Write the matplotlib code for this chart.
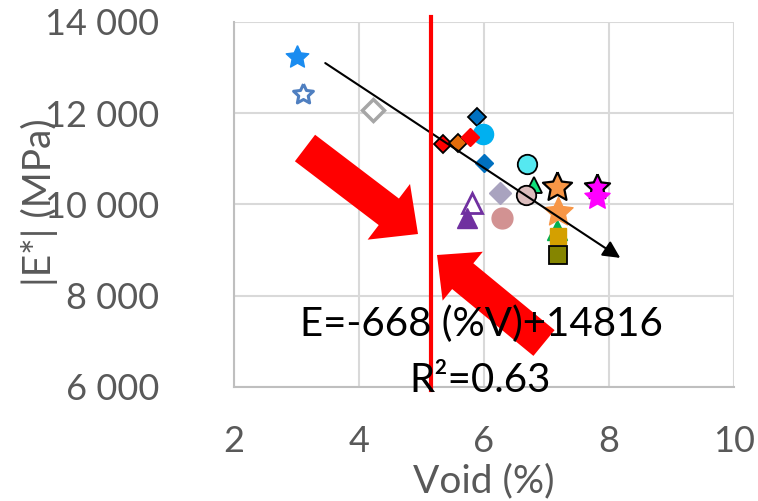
import matplotlib
matplotlib.use("Agg")
import matplotlib.pyplot as plt
import numpy as np

# ---------------- data ----------------
void = [3.00, 3.10, 4.22, 5.34, 5.59, 5.89, 5.99, 5.77, 6.00, 6.68, 6.80, 6.67,
        6.25, 6.28, 5.80, 5.72, 7.16, 7.17, 7.19, 7.18, 7.81, 7.81, 7.19]
modulus = [13230, 12420, 12070, 11330, 11340, 11920, 11540, 11490, 10920, 10880,
           10430, 10210, 10260, 9700, 10030, 9700, 10380, 9440, 9310, 9840,
           10380, 10160, 8890]

x_ticks = [2, 4, 6, 8, 10]
y_ticks = [6000, 8000, 10000, 12000, 14000]
y_tick_labels = ["6 000", "8 000", "10 000", "12 000", "14 000"]

equation_text = "E=-668 (%V)+14816"
r2_text = "R\u00b2=0.63"

# fatter five-pointed star (Excel style)
_ang = np.pi / 2 + np.arange(10) * np.pi / 5
_rad = np.where(np.arange(10) % 2 == 0, 1.0, 0.48)
STAR = list(zip(_rad * np.cos(_ang), _rad * np.sin(_ang))) + [(0.0, 1.0)]

# ---------------- styles (one per point) ----------------
markers = [STAR, STAR, "D", "D", "D", "D", "o", "D", "D", "o", "^", "o",
           "D", "o", "^", "^", STAR, "^", "s", STAR, STAR, STAR, "s"]
faces = ["#1A8CF0", "white", "white", "#FF0000", "#E36C0A", "#0070C0", "#00B0F0",
         "#FF0000", "#0070C0", "#55E8F0", "#10E07A", "#DCBDBD", "#A9A3BF",
         "#D29292", "white", "#7030A0", "#F79646", "#00B050", "#D4A000",
         "#F79646", "#FF00FF", "#FF00FF", "#858500"]
edges = ["#1A8CF0", "#4F7FC0", "#A6A6A6", "black", "black", "black", "#00B0F0",
         "#FF0000", "#0070C0", "black", "black", "black", "#A9A3BF",
         "#D29292", "#7030A0", "#7030A0", "black", "#00B050", "#D4A000",
         "#F79646", "black", "#FF00FF", "black"]
sizes = [17, 15, 11, 9.5, 9.5, 9.5, 14.5, 9.5, 9.5, 14, 11, 14,
         11, 15, 14, 14, 22, 14, 11.5, 22, 19, 19, 12.5]
ewidths = [1, 2.2, 2.5, 1.3, 1.3, 1.3, 1, 1, 1, 1.3, 1.3, 1.3,
           1, 1, 2, 1, 1.6, 1, 1, 1, 1.6, 1, 1.3]

plt.rcParams["font.family"] = ["Lato", "DejaVu Sans"]
grey = "#595959"

fig = plt.figure(figsize=(7.58, 5.01), dpi=100)
ax = fig.add_axes([234 / 758, 114 / 501, 500 / 758, 365 / 501])

ax.set_xlim(2, 10)
ax.set_ylim(6000, 14000)
ax.set_xticks(x_ticks)
ax.set_yticks(y_ticks)
ax.set_yticklabels(y_tick_labels)
ax.grid(True, color="#D9D9D9", linewidth=1.5, zorder=0)
ax.set_axisbelow(True)
for s in ["top", "right"]:
    ax.spines[s].set_visible(False)
for s in ["left", "bottom"]:
    ax.spines[s].set_color("#BFBFBF")
    ax.spines[s].set_linewidth(1.5)
ax.tick_params(axis="both", length=0, labelsize=26, labelcolor=grey)
ax.tick_params(axis="y", pad=54)
ax.tick_params(axis="x", pad=27)

for i in range(len(void)):
    ax.plot(void[i], modulus[i], linestyle="none", marker=markers[i],
            markersize=sizes[i], markerfacecolor=faces[i],
            markeredgecolor=edges[i], markeredgewidth=ewidths[i],
            zorder=3 + i * 0.01, clip_on=False)

# trend arrow (hand-drawn in the original)
ax.annotate("", xy=(8.18, 8830), xytext=(3.46, 13100),
            arrowprops=dict(arrowstyle="-|>", color="black", lw=1.5,
                            mutation_scale=26, shrinkA=0, shrinkB=0),
            zorder=5, annotation_clip=False)

# big red block arrows
ax.annotate("", xy=(4.944, 9353), xytext=(3.136, 11238),
            arrowprops=dict(arrowstyle="simple,head_length=1.1,head_width=2.1,tail_width=1.0",
                            color="#FF0000", mutation_scale=24, shrinkA=0, shrinkB=0,
                            lw=0),
            zorder=6, annotation_clip=False)
ax.annotate("", xy=(5.248, 8893), xytext=(6.96, 6964),
            arrowprops=dict(arrowstyle="simple,head_length=1.0,head_width=1.9,tail_width=1.0",
                            color="#FF0000", mutation_scale=24, shrinkA=0, shrinkB=0,
                            lw=0),
            zorder=6, annotation_clip=False)

# equation text
fig.text(481 / 758, 1 - 336 / 501, equation_text, ha="center", va="baseline",
         fontsize=29, color="black", zorder=7)
fig.text(480 / 758, 1 - 392 / 501, r2_text, ha="center", va="baseline",
         fontsize=29, color="black", zorder=7)

# red vertical line
ax.plot([5.152, 5.152], [14110, 5930], color="#FF0000", lw=3, zorder=8,
        clip_on=False)

ax.set_xlabel("Void (%)", fontsize=28, color=grey, labelpad=4)
fig.text(39 / 758, 1 - 202 / 501, "|E*| (MPa)", rotation=90, ha="center",
         va="center", fontsize=28, color=grey)

fig.savefig("out.png", dpi=100)
